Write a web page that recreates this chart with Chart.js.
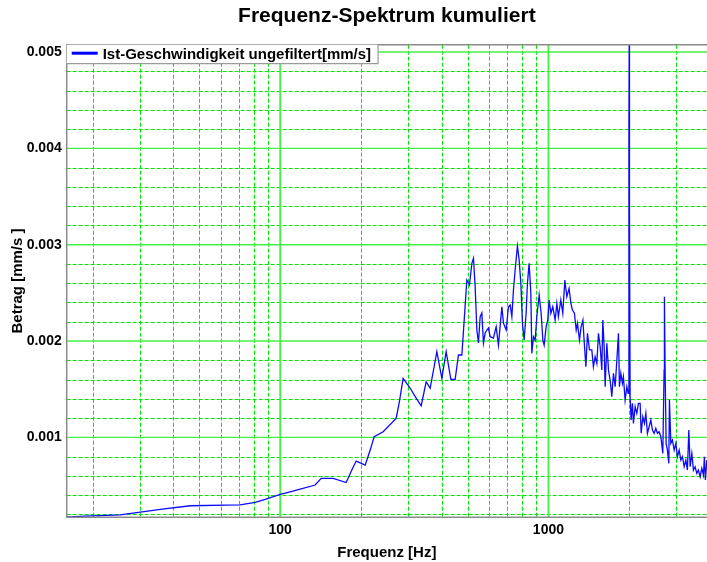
<!DOCTYPE html>
<html>
<head>
<meta charset="utf-8">
<script src="https://cdn.jsdelivr.net/npm/chart.js@4/dist/chart.umd.min.js"></script>
<style>
  html, body { margin: 0; padding: 0; background: #ffffff; }
  #wrap { width: 707px; height: 562px; }
</style>
</head>
<body>
<div id="wrap"><canvas id="c" width="707" height="562"></canvas></div>
<script>
// Texts
const chartTitle = 'Frequenz-Spektrum kumuliert';
const seriesLabel = 'Ist-Geschwindigkeit ungefiltert[mm/s]';
const xAxisTitle = 'Frequenz [Hz]';
const yAxisTitle = 'Betrag [mm/s ]';

// Axis labels and grid positions
const xTickLabels = ['100', '1000'];
const yTickLabels = ['0.001', '0.002', '0.003', '0.004', '0.005'];
const xGridValues = [20, 30, 40, 50, 60, 70, 80, 90, 100, 200, 300, 400, 500, 600, 700, 800, 900, 1000, 2000, 3000];
const yGridValues = [0.0002, 0.0004, 0.0006, 0.0008, 0.001, 0.0012, 0.0014, 0.0016, 0.0018, 0.002,
                     0.0022, 0.0024, 0.0026, 0.0028, 0.003, 0.0032, 0.0034, 0.0036, 0.0038, 0.004,
                     0.0042, 0.0044, 0.0046, 0.0048, 0.005];

// Spectrum: frequency [Hz] and magnitude [mm/s]
const freqHz = [
  16, 18.6, 21.3, 25.3, 30.1, 35.7, 46.2, 62.4, 70.9, 80.7, 87.9, 100, 109, 118.7, 135, 142.2, 157.6, 176.2,
  185.5, 192, 207.4, 216.5, 224, 242, 270.5, 277.6, 287.3, 305, 318.6, 335.4, 350.1, 362.3, 383.7, 400.5,
  415.6, 432.7, 449, 461.9, 475.6, 496.4, 507.7, 518.2, 525.4, 533.1, 540.9, 548.4, 556.4, 564.5, 572.4,
  580.8, 589.4, 597.5, 606.3, 623.7, 638.4, 651, 670.4, 679.6, 695.6, 709.5, 719.8, 730.5, 740.5, 751.3,
  766.3, 777.7, 789.1, 800, 811.7, 825.6, 835, 847.2, 859.8, 867.1, 879.2, 892.1, 905.1, 923.2, 939.3,
  953, 963.8, 980.4, 994.7, 1006, 1021, 1038, 1059, 1075, 1089, 1112, 1131, 1151, 1171, 1194, 1212, 1228,
  1250, 1269, 1283, 1305, 1324, 1344, 1358, 1379, 1398, 1422, 1451, 1471, 1493, 1515, 1536, 1559, 1581,
  1595, 1613, 1627, 1651, 1674, 1698, 1723, 1747, 1773, 1799, 1824, 1839, 1862, 1887, 1903, 1931, 1960,
  1982, 1995, 2000, 2005, 2016, 2033, 2056, 2074, 2105, 2135, 2165, 2197, 2216, 2248, 2280, 2307, 2339,
  2373, 2408, 2441, 2477, 2513, 2548, 2585, 2624, 2669, 2699, 2706, 2722, 2746, 2776, 2810, 2825, 2859,
  2899, 2942, 2985, 3026, 3071, 3116, 3159, 3206, 3253, 3296, 3337, 3374, 3424, 3471, 3522, 3573, 3622,
  3677, 3730, 3782, 3814, 3847, 3894
];
const betrag = [
  0.000172, 0.000183, 0.000188, 0.000196, 0.000224, 0.000252, 0.00029, 0.000297, 0.0003, 0.000325, 0.000356,
  0.000408, 0.000435, 0.000463, 0.000505, 0.000574, 0.000574, 0.000531,
  0.000668, 0.000754, 0.000712, 0.000868, 0.001006, 0.001058, 0.001197, 0.001356, 0.001613, 0.001512,
  0.001422, 0.001328, 0.001577, 0.001509, 0.001889, 0.001613,
  0.001889, 0.001602, 0.001602, 0.001855, 0.001855, 0.002633, 0.002582, 0.002807, 0.002859, 0.002564,
  0.002114, 0.001979, 0.002252, 0.002291, 0.001979,
  0.002083, 0.002114, 0.002135, 0.002045, 0.002031, 0.002149, 0.001958, 0.002356, 0.002187, 0.002114,
  0.002356, 0.002374, 0.002252, 0.00253, 0.002737,
  0.002987, 0.002841, 0.002599, 0.002184, 0.00201, 0.002288, 0.002599, 0.002807, 0.002495, 0.001872,
  0.002045, 0.00201, 0.002252, 0.002478, 0.002288,
  0.00201, 0.001958, 0.002149, 0.002218, 0.002426, 0.002288, 0.002356, 0.002218, 0.002392, 0.002252,
  0.002426, 0.002288, 0.002633, 0.00246, 0.002547, 0.002392, 0.002322,
  0.002288, 0.002114, 0.002184, 0.00201, 0.002149, 0.002218, 0.00201, 0.001733, 0.00208, 0.001907,
  0.001907, 0.001733, 0.001837, 0.001768, 0.00208, 0.001941, 0.001699,
  0.002218, 0.001941, 0.001525, 0.001976, 0.001699, 0.001595, 0.001422, 0.001665, 0.001525, 0.001803,
  0.00208, 0.001525, 0.001665, 0.001561, 0.001629, 0.001387, 0.001525,
  0.001457, 0.004173, 0.00515, 0.00334, 0.001422, 0.00118, 0.001353, 0.001145, 0.001318, 0.001249,
  0.001353, 0.001353, 0.001042, 0.001214, 0.001145, 0.001249, 0.001042,
  0.00111, 0.00118, 0.001076, 0.001042, 0.001093, 0.001042, 0.001058, 0.001006, 0.000834, 0.001699,
  0.00246, 0.001699, 0.000938, 0.000868, 0.00073, 0.001387, 0.000938,
  0.000972, 0.000868, 0.000938, 0.000799, 0.000868, 0.000764, 0.000799, 0.000695, 0.000764, 0.00066,
  0.001076, 0.000695, 0.000834, 0.00066, 0.000695, 0.000626, 0.00066,
  0.000591, 0.000678, 0.000609, 0.000799, 0.000557, 0.000764
];

const FONT = '"Liberation Sans", Arial, Helvetica, sans-serif';
const GREEN_SOLID = '#44f044';
const GREEN_DASH = '#00e600';
const FRAME = '#8a8a8a';

const isXMajor = v => xTickLabels.includes(String(v));
const yLabelFor = v => yTickLabels.find(l => Math.abs(parseFloat(l) - v) < 1e-9) || '';

// Green grid: dashed minor lines, solid lines at decades / full thousandths
const gridPlugin = {
  id: 'spectrumGrid',
  beforeDatasetsDraw(chart) {
    const { ctx, chartArea: a, scales: { x, y } } = chart;
    ctx.save();
    ctx.beginPath();
    ctx.rect(a.left, a.top, a.right - a.left, a.bottom - a.top);
    ctx.clip();
    const line = (x1, y1, x2, y2) => { ctx.beginPath(); ctx.moveTo(x1, y1); ctx.lineTo(x2, y2); ctx.stroke(); };
    // minor dashed
    ctx.strokeStyle = GREEN_DASH;
    ctx.lineWidth = 1;
    ctx.setLineDash([4, 2]);
    xGridValues.filter(v => !isXMajor(v)).forEach(v => {
      const px = Math.round(x.getPixelForValue(v)) + 0.5;
      line(px, a.top, px, a.bottom);
    });
    yGridValues.filter(v => !yLabelFor(v)).forEach(v => {
      const py = Math.round(y.getPixelForValue(v)) + 0.5;
      line(a.left, py, a.right, py);
    });
    // major solid
    ctx.setLineDash([]);
    ctx.strokeStyle = GREEN_SOLID;
    ctx.lineWidth = 1.8;
    xGridValues.filter(isXMajor).forEach(v => {
      const px = x.getPixelForValue(v);
      line(px, a.top, px, a.bottom);
    });
    ctx.lineWidth = 1.4;
    yGridValues.filter(v => yLabelFor(v)).forEach(v => {
      const py = y.getPixelForValue(v);
      line(a.left, py, a.right, py);
    });
    ctx.restore();
  },
  afterDatasetsDraw(chart) {
    const { ctx, chartArea: a } = chart;
    ctx.save();
    // plot frame (left, top, bottom)
    ctx.strokeStyle = FRAME;
    ctx.lineWidth = 1.5;
    ctx.beginPath();
    ctx.moveTo(a.right, a.top); ctx.lineTo(a.left, a.top);
    ctx.lineTo(a.left, a.bottom); ctx.lineTo(a.right, a.bottom);
    ctx.stroke();
    // legend box in the upper-left corner of the plot
    ctx.font = 'bold 15px ' + FONT;
    const tw = ctx.measureText(seriesLabel).width;
    const bx = a.left, by = a.top, bh = 19, bw = 36 + tw + 7;
    ctx.fillStyle = '#ffffff';
    ctx.fillRect(bx, by, bw, bh);
    ctx.strokeStyle = '#9a9a9a';
    ctx.lineWidth = 1.2;
    ctx.beginPath();
    ctx.moveTo(bx, by + bh); ctx.lineTo(bx + bw, by + bh); ctx.lineTo(bx + bw, by);
    ctx.stroke();
    ctx.strokeStyle = '#0000ff';
    ctx.lineWidth = 3;
    ctx.beginPath();
    ctx.moveTo(bx + 5, by + 8.5); ctx.lineTo(bx + 31, by + 8.5);
    ctx.stroke();
    ctx.fillStyle = '#000000';
    ctx.textBaseline = 'alphabetic';
    ctx.textAlign = 'left';
    ctx.fillText(seriesLabel, bx + 36, by + 14);
    ctx.restore();
  }
};

const points = freqHz.map((f, i) => ({ x: f, y: betrag[i] }));

new Chart(document.getElementById('c'), {
  type: 'line',
  data: {
    datasets: [{
      label: seriesLabel,
      data: points,
      borderColor: '#0a0aff',
      borderWidth: 1.3,
      pointRadius: 0,
      tension: 0,
      fill: false
    }]
  },
  options: {
    responsive: false,
    animation: false,
    events: [],
    layout: { padding: 0 },
    plugins: {
      legend: { display: false },
      tooltip: { enabled: false },
      title: {
        display: true,
        fullSize: false,
        text: chartTitle,
        color: '#000000',
        font: { family: FONT, size: 21, weight: 'bold' },
        padding: { top: 4, bottom: 15.5 }
      }
    },
    scales: {
      x: {
        type: 'logarithmic',
        min: 16,
        max: 3900,
        afterBuildTicks: s => { s.ticks = xGridValues.map(v => ({ value: v })); },
        afterFit: s => { s.height = 44.7; },
        grid: { display: false, drawTicks: false },
        border: { display: false },
        ticks: {
          autoSkip: false,
          maxRotation: 0,
          padding: 4,
          color: '#000000',
          font: { family: FONT, size: 14, weight: 'bold' },
          callback: v => (isXMajor(v) ? String(v) : '')
        },
        title: {
          display: true,
          text: xAxisTitle,
          color: '#000000',
          font: { family: FONT, size: 15, weight: 'bold' },
          padding: { top: 4, bottom: 0 }
        }
      },
      y: {
        type: 'linear',
        min: 0.00017,
        max: 0.005076,
        afterBuildTicks: s => { s.ticks = yGridValues.map(v => ({ value: v })); },
        afterFit: s => { s.width = 66.7; },
        grid: { display: false, drawTicks: false },
        border: { display: false },
        ticks: {
          autoSkip: false,
          padding: 5,
          color: '#000000',
          font: { family: FONT, size: 14, weight: 'bold' },
          callback: v => yLabelFor(v)
        },
        title: {
          display: true,
          text: yAxisTitle,
          color: '#000000',
          font: { family: FONT, size: 15, weight: 'bold' },
          padding: { top: 9, bottom: 0 }
        }
      }
    }
  },
  plugins: [gridPlugin]
});
</script>
</body>
</html>
